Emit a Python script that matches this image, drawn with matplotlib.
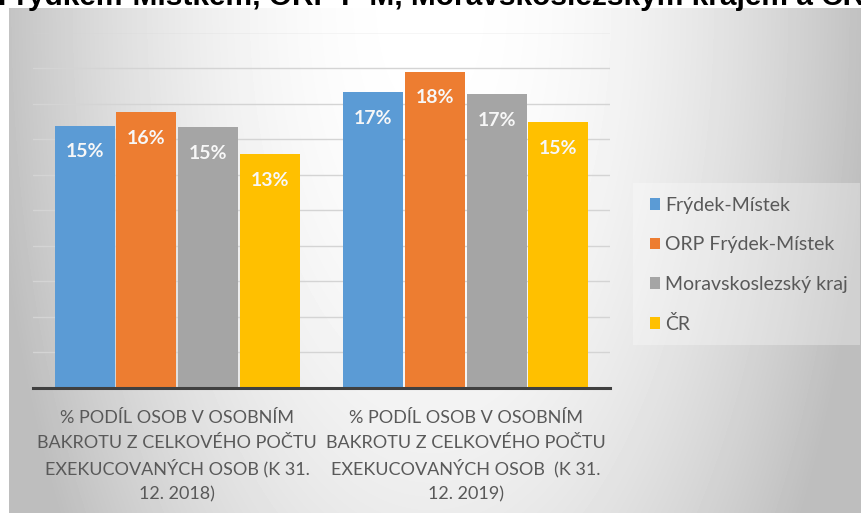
import matplotlib
matplotlib.use("Agg")
import matplotlib.pyplot as plt
import numpy as np
from matplotlib.patches import Rectangle

# values (percent)
categories = [
    "% PODÍL OSOB V OSOBNÍM\nBAKROTU Z CELKOVÉHO POČTU\nEXEKUCOVANÝCH OSOB (K 31.\n12. 2018)",
    "% PODÍL OSOB V OSOBNÍM\nBAKROTU Z CELKOVÉHO POČTU\nEXEKUCOVANÝCH OSOB  (K 31.\n12. 2019)",
]
series = ["Frýdek-Místek", "ORP Frýdek-Místek", "Moravskoslezský kraj", "ČR"]
frydek = [14.75, 16.63]
orp = [15.5, 17.79]
msk = [14.66, 16.54]
cr = [13.16, 14.94]
colors = ["#5B9BD5", "#ED7D31", "#A5A5A5", "#FFC000"]
title = "Frýdkem-Místkem, ORP F-M, Moravskoslezským krajem a ČR"

W, H = 861, 513
fig = plt.figure(figsize=(W / 100, H / 100), dpi=100)
fig.patch.set_facecolor("white")

# radial gray background of the chart area
bg = fig.add_axes([9 / W, 0, 1 - 9 / W, (H - 8) / H], zorder=-5)
xx, yy = np.meshgrid(np.arange(9, W), np.arange(8, H))
d2 = ((xx - 430) / 420.0) ** 2 + ((yy - 0) / 900.0) ** 2
val = np.clip(255 - 59 * d2, 190, 255) / 255.0
bg.imshow(val, cmap="gray", vmin=0, vmax=1, aspect="auto",
          extent=[9, W, H, 8], interpolation="bilinear")
bg.set_axis_off()

# title, cut off by the top edge as in the source
fig.text(-2 / W, 1 - 5 / H, title, ha="left", va="baseline",
         fontsize=21.5, fontweight="bold", family="Liberation Sans", color="black")

ax = fig.add_axes([33 / W, 1 - 388 / H, (610 - 33) / W, (388 - 32.5) / H])
ax.set_facecolor("none")
ax.set_xlim(-0.5, 1.5)
ax.set_ylim(0, 20)
ax.set_yticks(np.arange(0, 21, 2))
ax.yaxis.grid(True, color="#d4d4d4", lw=1.0)
ax.set_axisbelow(True)
for s in ["top", "right", "left"]:
    ax.spines[s].set_visible(False)
ax.spines["bottom"].set_color("#404040")
ax.spines["bottom"].set_linewidth(2.2)
ax.tick_params(left=False, labelleft=False, bottom=False, labelbottom=False)

x = np.arange(len(categories))
pitch = 0.214
bars = []
for i, (vals, name) in enumerate(zip([frydek, orp, msk, cr], series)):
    b = ax.bar(x + (i - 1.5) * pitch, vals, 0.208, color=colors[i],
               label=name, zorder=2)
    bars.append(b)
    for xi, v in zip(x + (i - 1.5) * pitch, vals):
        ax.annotate(f"{v:.0f}%", (xi, v), xytext=(0, -26),
                    textcoords="offset pixels", ha="center", va="center",
                    color="#f7f7f7", fontweight="bold", family="Lato",
                    fontsize=14)

# category labels, one line at a time so the spacing stays even
for xi, lab in zip(x, categories):
    for k, line in enumerate(lab.split("\n")):
        ax.annotate(line, (xi, 0), xytext=(0, -35 - 25.5 * k),
                    textcoords="offset pixels", ha="center", va="baseline",
                    color="#595959", family="Lato", fontsize=13)

# legend box
fig.patches.append(Rectangle((633 / W, 1 - 345 / H), (860 - 633) / W,
                             (345 - 183) / H, transform=fig.transFigure,
                             facecolor="white", alpha=0.3, edgecolor="none"))
leg = fig.legend(handles=bars, labels=series, loc="center left",
                 bbox_to_anchor=(632 / W, 1 - 265 / H), frameon=False,
                 prop={"family": "Lato", "size": 14}, handlelength=0.55,
                 handleheight=0.55, handletextpad=0.25, labelspacing=1.15)
for t in leg.get_texts():
    t.set_color("#595959")

fig.savefig("out.png", dpi=100)
